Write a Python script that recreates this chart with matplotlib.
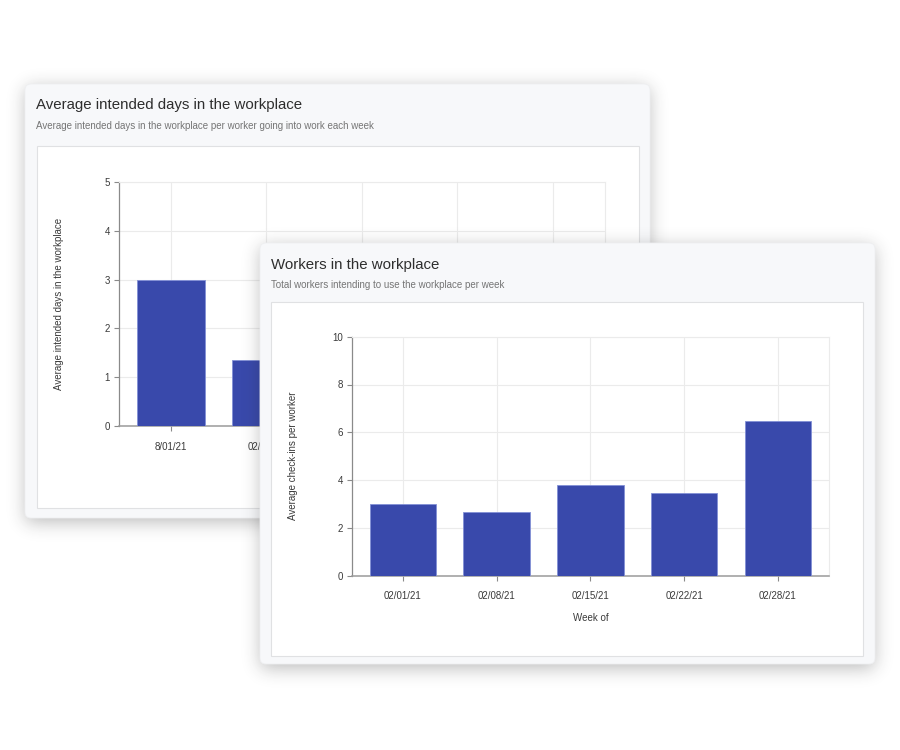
import numpy as np
import matplotlib
matplotlib.use('Agg')
import matplotlib.pyplot as plt
from matplotlib.patches import FancyBboxPatch, Rectangle

plt.rcParams['font.family'] = ['Liberation Sans', 'DejaVu Sans']

W, H = 900, 750

# back card: average intended days (only the first two bars show)
back_weeks = ['8/01/21', '02/08/21', '02/15/21', '02/22/21', '02/28/21']
back_days = [3.0, 1.35, 1.6, 1.5, 2.1]

# front card: average check-ins per worker
front_weeks = ['02/01/21', '02/08/21', '02/15/21', '02/22/21', '02/28/21']
front_checkins = [3.02, 2.68, 3.79, 3.45, 6.46]

BAR = '#3949ab'
GRID = '#ebebeb'
TXT = '#3a3a3a'


# convert pixel box (top-left origin) into figure fraction
def px_rect(x0, y0, x1, y1):
    return [x0 / W, 1 - y1 / H, (x1 - x0) / W, (y1 - y0) / H]


def blur(a, sigma):
    r = int(3 * sigma)
    k = np.exp(-0.5 * (np.arange(-r, r + 1) / sigma) ** 2)
    k /= k.sum()
    a = np.apply_along_axis(lambda m: np.convolve(m, k, mode='same'), 0, a)
    a = np.apply_along_axis(lambda m: np.convolve(m, k, mode='same'), 1, a)
    return a


def layer(z):
    ax = fig.add_axes([0, 0, 1, 1], zorder=z)
    ax.axis('off')
    return ax


# card with soft drop shadow and the white inner panel
def card(ax, box, panel, title, subtitle):
    x0, y0, x1, y1 = box
    mask = np.zeros((H, W))
    mask[y0 + 4:y1 + 4, x0 + 1:x1 - 1] = 1
    rgba = np.zeros((H, W, 4))
    rgba[..., :3] = 0.15
    rgba[..., 3] = blur(mask, 9) * 0.32
    ax.imshow(rgba, extent=(0, W, H, 0), interpolation='bilinear', zorder=0)
    ax.set_aspect('auto')
    ax.set_xlim(0, W)
    ax.set_ylim(H, 0)
    ax.add_patch(FancyBboxPatch((x0, y0), x1 - x0, y1 - y0,
                                boxstyle='round,pad=0,rounding_size=6',
                                fc='#f7f8fa', ec='#eeeff1', lw=0.6, zorder=1))
    px0, py0, px1, py1 = panel
    ax.add_patch(Rectangle((px0, py0), px1 - px0, py1 - py0,
                           fc='white', ec='#e0e1e3', lw=0.8, zorder=2))
    ax.text(x0 + 11, y0 + 25.5, title, fontsize=10.8, color='#2e2e2e',
            va='baseline', zorder=3)
    ax.text(x0 + 11, y0 + 45, subtitle, fontsize=7.05, color='#757575',
            va='baseline', zorder=3)


def chart(box, z, cats, vals, ymax, step, ylabel, ylab_x, xlabel=None):
    ax = fig.add_axes(px_rect(*box), zorder=z)
    x = np.arange(len(cats))
    ax.bar(x, vals, width=0.71, color=BAR, edgecolor='#8390d6',
           linewidth=0.6, zorder=3)
    ax.set_xlim(-0.545, len(cats) - 0.455)
    ax.set_ylim(0, ymax)
    ax.set_yticks(np.arange(0, ymax + 0.01, step))
    ax.set_xticks(x, cats)
    ax.grid(True, color=GRID, lw=0.8)
    ax.set_axisbelow(True)
    ax.set_facecolor('white')
    for s in ['top', 'right']:
        ax.spines[s].set_color(GRID)
        ax.spines[s].set_linewidth(0.8)
    ax.spines['left'].set_color('#8a8a8a')
    ax.spines['bottom'].set_color('#9a9a9a')
    ax.spines['left'].set_linewidth(0.9)
    ax.spines['bottom'].set_linewidth(1.1)
    ax.tick_params(axis='both', colors='#8a8a8a', labelcolor=TXT,
                   labelsize=7, length=3.3, width=0.8)
    ax.tick_params(axis='y', pad=3)
    ax.tick_params(axis='x', pad=8)
    ax.set_ylabel(ylabel, fontsize=7, color=TXT)
    ax.yaxis.set_label_coords(ylab_x, 0.5)
    if xlabel:
        ax.set_xlabel(xlabel, fontsize=7, color=TXT)
        ax.xaxis.set_label_coords(0.5, -0.155)
    return ax


fig = plt.figure(figsize=(9, 7.5), dpi=100)
fig.patch.set_facecolor('white')

back = layer(1)
card(back, (25, 84, 650, 518), (37, 146, 639, 508),
     'Average intended days in the workplace',
     'Average intended days in the workplace per worker going into work each week')
chart((118.7, 182, 605, 426), 2, back_weeks, back_days, 5, 1,
      'Average intended days in the workplace', -0.113)

front = layer(3)
card(front, (260, 243, 875, 664), (271, 302, 863, 656),
     'Workers in the workplace',
     'Total workers intending to use the workplace per week')
chart((351.7, 336.7, 829, 575.7), 4, front_weeks, front_checkins, 10, 2,
      'Average check-ins per worker', -0.112, 'Week of')

fig.savefig('out.png', dpi=100, facecolor='white')
